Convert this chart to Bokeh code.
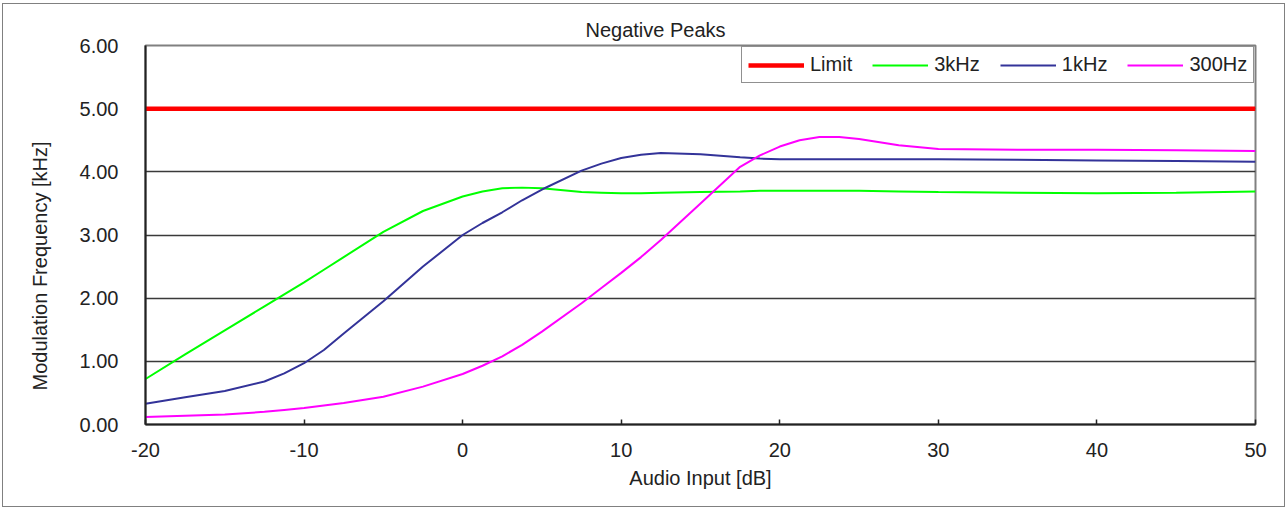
from bokeh.plotting import figure
from bokeh.models import Range1d, FixedTicker, Legend, LegendItem, NumeralTickFormatter, Title, InlineStyleSheet
from bokeh.embed import file_html
from bokeh.resources import INLINE

# ---- data ----
x_db = [-20, -17.5, -15, -12.5, -11.25, -10, -8.75, -7.5, -5, -2.5, 0, 1.25, 2.5, 3.75,
        5, 7.5, 8.75, 10, 11.25, 12.5, 15, 17.5, 18.75, 20, 21.25, 22.5, 23.75, 25,
        27.5, 30, 35, 40, 45, 50]
khz3 = [0.72, 1.11, 1.49, 1.87, 2.06, 2.25, 2.45, 2.65, 3.05, 3.38, 3.61, 3.69, 3.74, 3.75,
        3.74, 3.68, 3.67, 3.66, 3.66, 3.67, 3.68, 3.69, 3.70, 3.70, 3.70, 3.70, 3.70, 3.70,
        3.69, 3.68, 3.67, 3.66, 3.67, 3.69]
khz1 = [0.33, 0.43, 0.53, 0.68, 0.81, 0.97, 1.18, 1.44, 1.95, 2.50, 3.00, 3.19, 3.36, 3.55,
        3.72, 4.02, 4.13, 4.22, 4.27, 4.30, 4.28, 4.23, 4.21, 4.20, 4.20, 4.20, 4.20, 4.20,
        4.20, 4.20, 4.19, 4.18, 4.17, 4.16]
hz300 = [0.12, 0.14, 0.16, 0.20, 0.23, 0.26, 0.30, 0.34, 0.44, 0.60, 0.80, 0.93, 1.08, 1.26,
         1.47, 1.92, 2.16, 2.40, 2.65, 2.92, 3.50, 4.08, 4.26, 4.40, 4.50, 4.55, 4.55, 4.52,
         4.42, 4.36, 4.35, 4.35, 4.34, 4.33]
limit_x = [-20, 50]
limit_y = [5.0, 5.0]

x_ticks = [-20, -10, 0, 10, 20, 30, 40, 50]
x_tick_labels = ["-20", "-10", "0", "10", "20", "30", "40", "50"]
y_ticks = [0, 1, 2, 3, 4, 5, 6]
grid_y = [1, 2, 3, 4, 5, 6]

FONT = "Liberation Sans"
FS = "20px"
TXT = "#222222"

frame_css = InlineStyleSheet(css=":host::after { content: ''; position: absolute; "
                                 "left: 2px; top: 3px; right: 2px; bottom: 2px; "
                                 "border: 1px solid #808080; pointer-events: none; z-index: 10; }")

p = figure(width=1287, height=509, output_backend="svg", toolbar_location=None,
           x_range=Range1d(-20, 50), y_range=Range1d(0, 6),
           min_border_left=145, min_border_right=32, min_border_top=45, min_border_bottom=85,
           stylesheets=[frame_css])

p.background_fill_color = "white"
p.border_fill_color = "white"
p.outline_line_color = "#808080"
p.outline_line_width = 2

p.title.text = "Negative Peaks"
p.title.text_font = FONT
p.title.text_font_size = FS
p.title.text_font_style = "normal"
p.title.text_color = TXT
p.title.align = "left"
p.title.offset = 440

p.xgrid.grid_line_color = None
p.ygrid.ticker = FixedTicker(ticks=grid_y)
p.ygrid.grid_line_color = "#3a3a3a"
p.ygrid.grid_line_width = 1.4

xa = p.xaxis[0]
xa.ticker = FixedTicker(ticks=x_ticks)
xa.major_label_overrides = {t: s for t, s in zip(x_ticks, x_tick_labels)}
xa.axis_line_color = TXT
xa.axis_line_width = 2
xa.major_tick_in = 5
xa.major_tick_out = 0
xa.major_tick_line_color = TXT
xa.major_tick_line_width = 1.5
xa.minor_tick_line_color = None
xa.major_label_text_font = FONT
xa.major_label_text_font_size = FS
xa.major_label_text_color = TXT
xa.major_label_standoff = 18
xa.axis_label = "Audio Input [dB]"
xa.axis_label_text_font = FONT
xa.axis_label_text_font_size = FS
xa.axis_label_text_font_style = "normal"
xa.axis_label_text_color = TXT
xa.axis_label_standoff = 7

ya = p.yaxis[0]
ya.ticker = FixedTicker(ticks=y_ticks)
ya.formatter = NumeralTickFormatter(format="0.00")
ya.axis_line_color = TXT
ya.axis_line_width = 2
ya.major_tick_in = 0
ya.major_tick_out = 0
ya.minor_tick_line_color = None
ya.major_label_text_font = FONT
ya.major_label_text_font_size = FS
ya.major_label_text_color = TXT
ya.major_label_standoff = 27

ytitle = Title(text="Modulation Frequency [kHz]", align="left", offset=34,
               text_font=FONT, text_font_size=FS, text_font_style="normal",
               text_color=TXT, standoff=52)
p.add_layout(ytitle, "left")

r_lim = p.line(limit_x, limit_y, line_color="#FF0000", line_width=4.5)
r3 = p.line(x_db, khz3, line_color="#00FF00", line_width=2)
r1 = p.line(x_db, khz1, line_color="#333399", line_width=2)
r300 = p.line(x_db, hz300, line_color="#FF00FF", line_width=2)

legend = Legend(items=[LegendItem(label="Limit", renderers=[r_lim]),
                       LegendItem(label="3kHz", renderers=[r3]),
                       LegendItem(label="1kHz", renderers=[r1]),
                       LegendItem(label="300Hz", renderers=[r300])],
                orientation="horizontal", location=(596, 341),
                glyph_width=56, glyph_height=20, label_standoff=6, spacing=20,
                padding=6, margin=0,
                border_line_color=TXT, border_line_width=1,
                background_fill_color="white", background_fill_alpha=1,
                label_text_font=FONT, label_text_font_size=FS, label_text_color=TXT)
p.add_layout(legend)

open("out.html", "w").write(file_html(p, INLINE))
